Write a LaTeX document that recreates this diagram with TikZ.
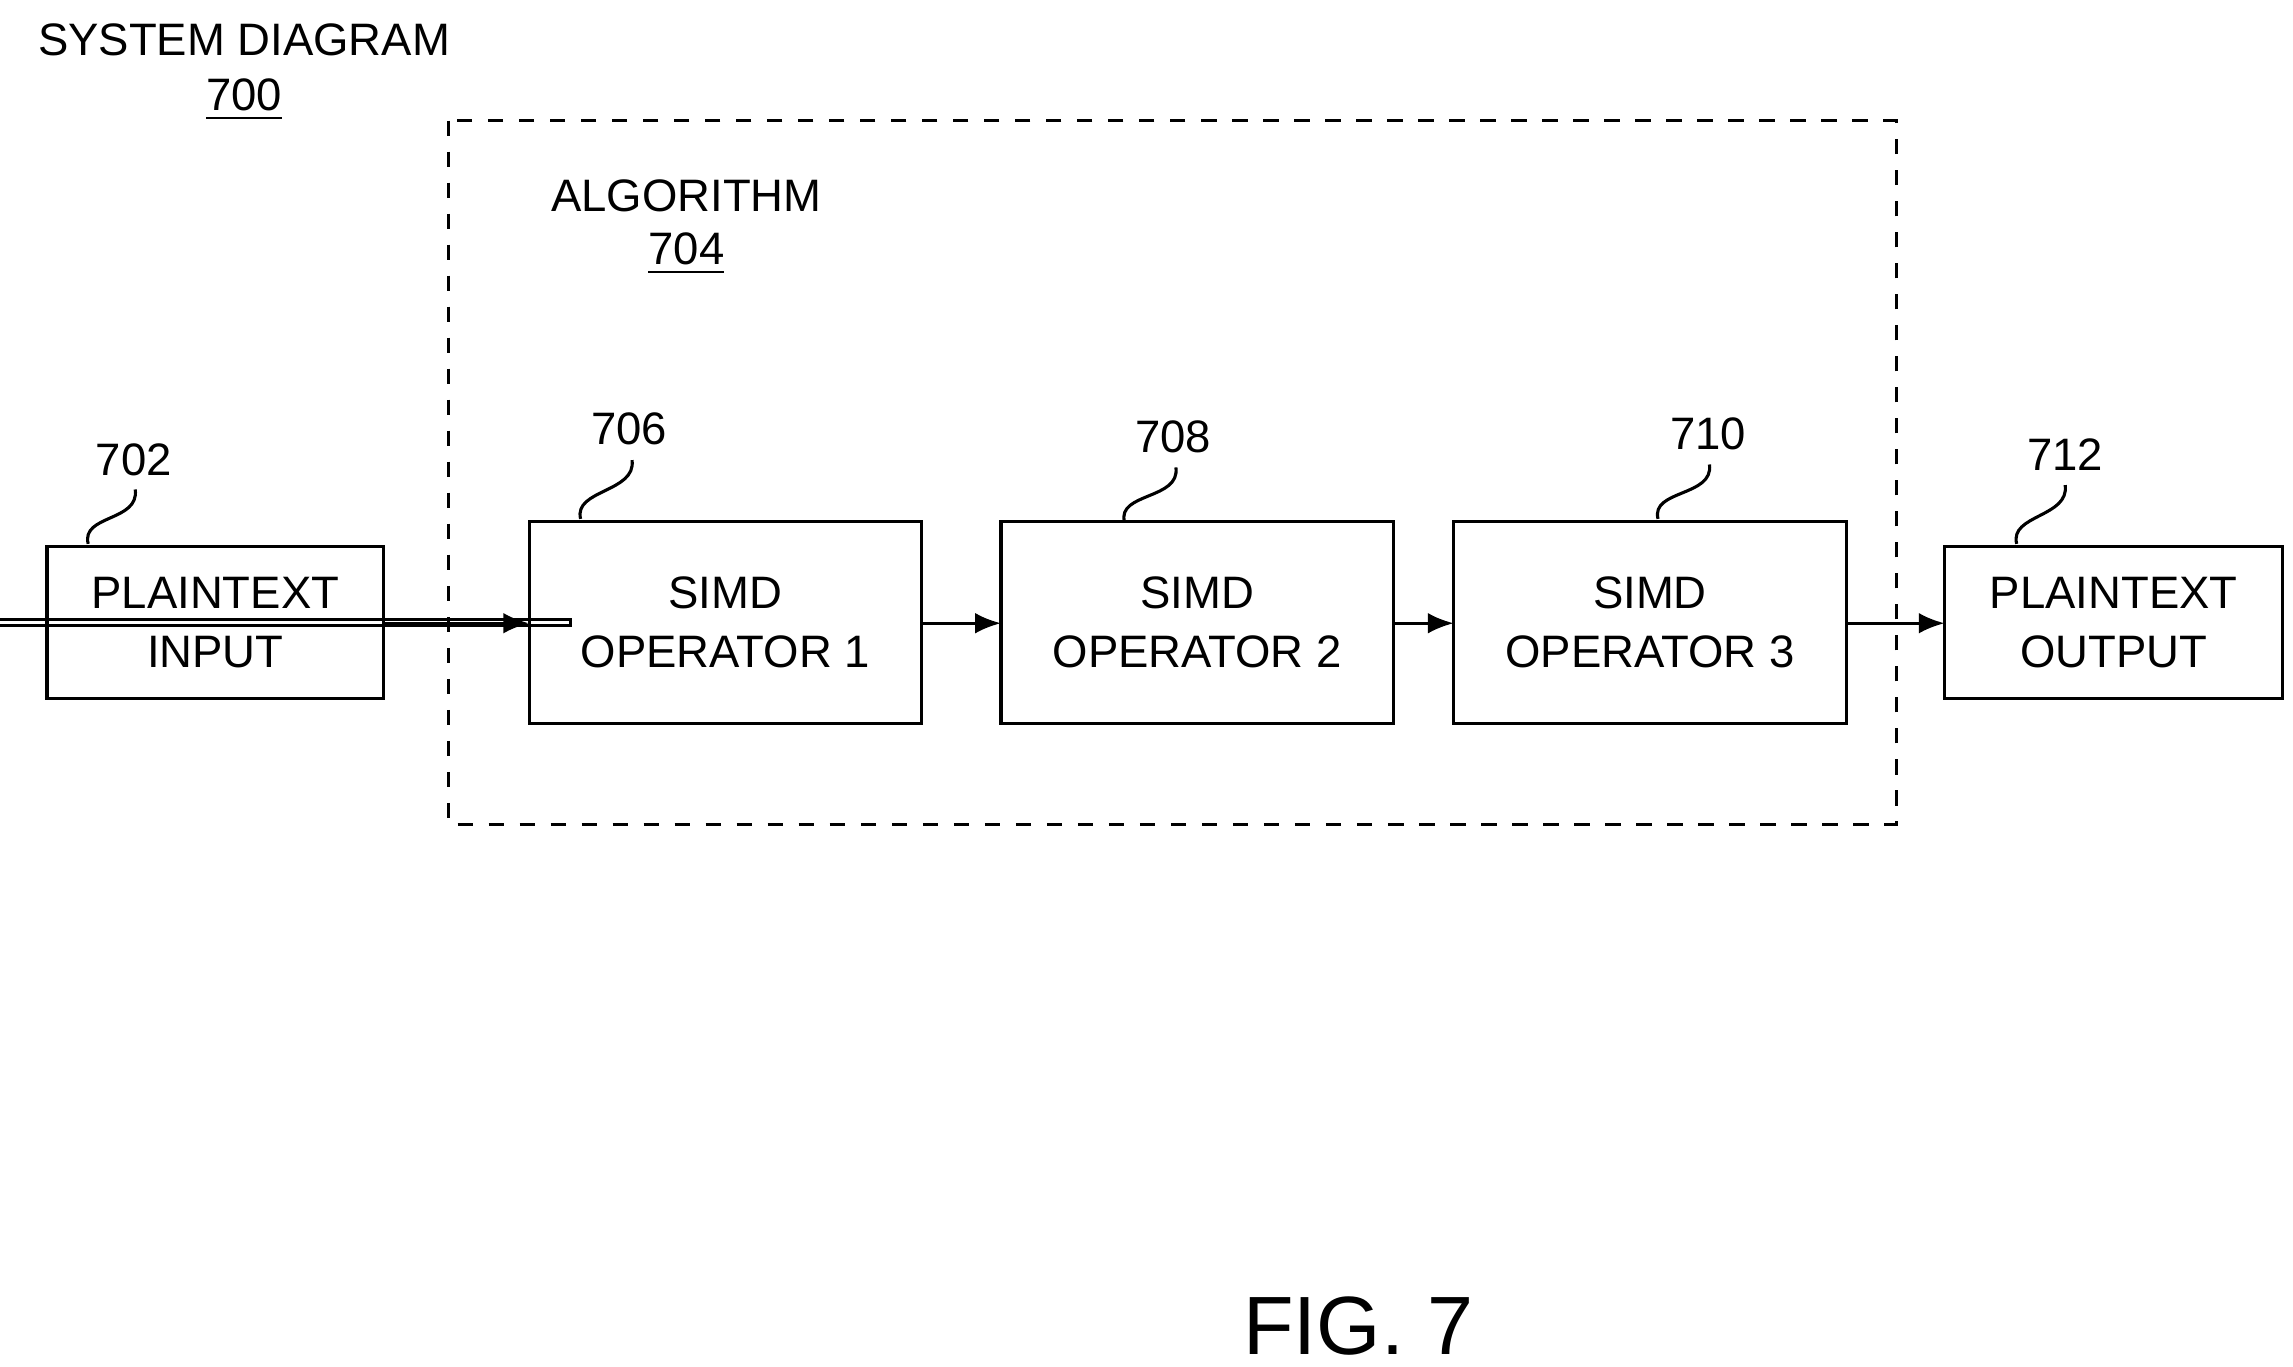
\documentclass[tikz,border=0pt]{standalone}
\usepackage{fontspec}
\setmainfont{Liberation Sans}
\usetikzlibrary{arrows.meta}
\begin{document}
\begin{tikzpicture}[x=0.01cm,y=-0.01cm,
  txt/.style={font=\fontsize{8.8}{11.3}\selectfont,align=center,inner sep=0pt},
  box/.style={draw,line width=0.6pt,txt},
  arr/.style={-{Latex[length=5pt,width=4pt]},line width=0.6pt},
  sq/.style={line width=0.6pt}]
\useasboundingbox (0,0) rectangle (1560,930);
\node[txt] (t) at (166,27) {SYSTEM DIAGRAM};
\node[txt] (t700) at (166,68) {\underline{700}};
\draw[dashed,line width=0.6pt] (305,82) rectangle (1290,561);
\node[txt] (alg) at (467,133) {ALGORITHM};
\node[txt] (a704) at (467,173) {\underline{704}};
\node[box,minimum width=229\pgflinewidth] (in) at (146.5,423.5) {};
\draw[line width=0.6pt] (32,372) rectangle (261,475);
\node[txt] (inT) at (146.5,423.5) {PLAINTEXT\\INPUT};
\draw[line width=0.6pt] (360,355) rectangle (627,492);
\node[txt] (o1) at (493.5,423.5) {SIMD\\OPERATOR 1};
\draw[line width=0.6pt] (681,355) rectangle (948,492);
\node[txt] (o2) at (814.5,423.5) {SIMD\\OPERATOR 2};
\draw[line width=0.6pt] (989,355) rectangle (1256,492);
\node[txt] (o3) at (1122.5,423.5) {SIMD\\OPERATOR 3};
\draw[line width=0.6pt] (1323,372) rectangle (1553,475);
\node[txt] (outT) at (1438,423.5) {PLAINTEXT\\OUTPUT};
\coordinate (ia) at (261,424); \coordinate (ib) at (360,424);
\coordinate (c1a) at (627,424); \coordinate (c1b) at (681,424);
\coordinate (c2a) at (948,424); \coordinate (c2b) at (989,424);
\coordinate (c3a) at (1256,424); \coordinate (c3b) at (1323,424);
\draw[arr] (ia) -- (ib);
\draw[arr] (c1a) -- (c1b);
\draw[arr] (c2a) -- (c2b);
\draw[arr] (c3a) -- (c3b);
\node[txt] (l702) at (91,313) {702};
\node[txt] (l706) at (428,292) {706};
\node[txt] (l708) at (798,297) {708};
\node[txt] (l710) at (1162,295) {710};
\node[txt] (l712) at (1405,309) {712};
\foreach \a/\b in {60/370/92/333,395/353/430/313,765/355/800/318,1128/353/1163/316,1372/370/1405/330}{}
\draw[sq] (60,370) .. controls (55,350) and (95,355) .. (92,333);
\draw[sq] (395,353) .. controls (390,333) and (433,335) .. (430,313);
\draw[sq] (765,355) .. controls (760,335) and (803,340) .. (800,318);
\draw[sq] (1128,353) .. controls (1123,333) and (1166,338) .. (1163,316);
\draw[sq] (1372,370) .. controls (1367,350) and (1408,352) .. (1405,330);
\node[font=\fontsize{16}{19}\selectfont,inner sep=0pt] (fig) at (924,902) {FIG. 7};
\end{tikzpicture}
\end{document}
